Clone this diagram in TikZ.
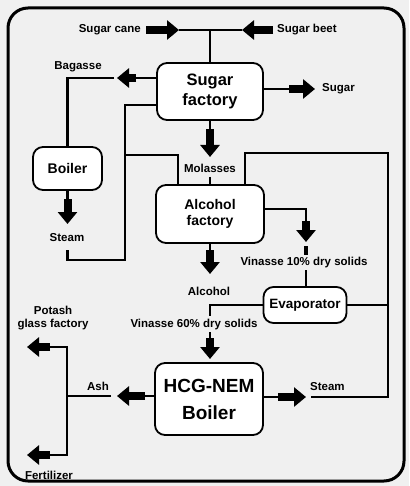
\documentclass[tikz,border=0pt]{standalone}
\usepackage{fontspec}
\setmainfont{Liberation Sans}
\usetikzlibrary{positioning,arrows.meta}

\begin{document}
\begin{tikzpicture}[x=1pt,y=-1pt,
        proc/.style={draw, line width=1.8pt, rounded corners=10pt, fill=white,
                     align=center, font=\bfseries, inner sep=2pt},
        lbl/.style={font=\bfseries\fontsize{11.5}{13}\selectfont, inner sep=0pt, align=center},
        flow/.style={line width=2.4pt},
        big/.style={line width=8pt, -{Triangle[width=19pt,length=12pt]}},
    ]
        \useasboundingbox (0,0) rectangle (409,486);
        \fill[black!6] (0,0) rectangle (409,486);
        \draw[line width=3pt, rounded corners=20pt] (8,8) rectangle (404,481);

        \node[proc, minimum width=106pt, minimum height=57pt,
              font=\bfseries\fontsize{16.5}{20}\selectfont] (sugar)  at (210,91.5) {Sugar\\factory};
        \node[proc, minimum width=108pt, minimum height=58pt,
              font=\bfseries\fontsize{14}{16.5}\selectfont] (alc)    at (210,214)  {Alcohol\\factory};
        \node[proc, minimum width=69pt, minimum height=43pt,
              font=\bfseries\fontsize{14}{16}\selectfont]   (boiler) at (67.5,168.5) {Boiler};
        \node[proc, minimum width=83pt, minimum height=36pt,
              font=\bfseries\fontsize{13.5}{16}\selectfont] (evap)   at (305,305)  {Evaporator};
        \node[proc, minimum width=108pt, minimum height=72pt,
              font=\bfseries\fontsize{19}{27}\selectfont]   (hcg)    at (209,399)  {HCG-NEM\\Boiler};

        \node[lbl, anchor=east] (cane)   at (141,30)  {Sugar cane};
        \node[lbl, anchor=west] (beet)   at (277,30)  {Sugar beet};
        \node[lbl]              (bag)    at (78,67)   {Bagasse};
        \node[lbl, anchor=west] (sug)    at (322,89)  {Sugar};
        \node[lbl]              (steam1) at (67,238)  {Steam};
        \node[lbl]              (mol)    at (210,168) {Molasses};
        \node[lbl]              (vin10)  at (304,263) {Vinasse 10\% dry solids};
        \node[lbl]              (alco)   at (209,291) {Alcohol};
        \node[lbl]              (vin60)  at (194,325) {Vinasse 60\% dry solids};
        \node[lbl]              (ash)    at (98,386)  {Ash};
        \node[lbl, anchor=west] (steam2) at (310,387) {Steam};
        \node[lbl]              (potash) at (53,318)  {Potash\\glass factory};
        \node[lbl]              (fert)   at (49,475)  {Fertilizer};

        \coordinate (caneA) at (146,30);  \coordinate (caneB) at (179,30);
        \coordinate (beetA) at (273,30);  \coordinate (beetB) at (242,30);
        \coordinate (topj)  at (210,30);
        \coordinate (bagA)  at (136,78);  \coordinate (bagB)  at (117,78);
        \coordinate (bagC)  at (114,78);  \coordinate (bagD)  at (67.5,78);
        \coordinate (sugA)  at (289,89);  \coordinate (sugB)  at (315,89);
        \coordinate (molA)  at (210,129); \coordinate (molB)  at (210,157);
        \coordinate (molC)  at (210,177);
        \coordinate (stA)   at (67.5,199); \coordinate (stB)  at (67.5,224);
        \coordinate (stC)   at (67.5,250); \coordinate (stD)  at (67.5,260);
        \coordinate (stE)   at (125,260); \coordinate (stF)   at (125,105);
        \coordinate (stG)   at (125,155); \coordinate (stH)   at (178,155);
        \coordinate (vA)    at (306,209); \coordinate (vB)    at (306,221);
        \coordinate (vC)    at (306,242); \coordinate (vD)    at (306,246);
        \coordinate (vE)    at (306,255); \coordinate (vF)    at (306,270);
        \coordinate (alA)   at (210,250); \coordinate (alB)   at (210,274);
        \coordinate (wA)    at (210,305); \coordinate (wB)    at (210,316);
        \coordinate (wC)    at (210,332); \coordinate (wD)    at (210,338);
        \coordinate (wE)    at (210,359);
        \coordinate (hsA)   at (278,397); \coordinate (hsB)   at (306,397);
        \coordinate (hsC)   at (311,397); \coordinate (hsD)   at (388,397);
        \coordinate (hsE)   at (388,153); \coordinate (hsF)   at (245,153);
        \coordinate (hsG)   at (388,305);
        \coordinate (ashA)  at (145,396); \coordinate (ashB)  at (117,396);
        \coordinate (ashC)  at (111,396); \coordinate (ashD)  at (67,396);
        \coordinate (potA)  at (67,347);  \coordinate (potB)  at (50,347);
        \coordinate (potC)  at (27,347);
        \coordinate (ferA)  at (67,455);  \coordinate (ferB)  at (50,455);
        \coordinate (ferC)  at (27,455);

        \draw[big]  (caneA) -- (caneB);
        \draw[big]  (beetA) -- (beetB);
        \draw[flow] (caneB) -- (beetB);
        \draw[flow] (topj) -- (sugar.north);

        \draw[flow] ([yshift=13.5pt]sugar.west) -- (bagA);
        \draw[big]  (bagA) -- (bagB);
        \draw[flow] (bagC) -- (bagD) -- (boiler.north);

        \draw[flow] ([yshift=2.5pt]sugar.east) -- (sugA);
        \draw[big]  (sugA) -- (sugB);

        \draw[flow] (sugar.south) -- (molA);
        \draw[big]  (molA) -- (molB);
        \draw[flow] (molC) -- (alc.north);

        \draw[flow] (boiler.south) -- (stA);
        \draw[big]  (stA) -- (stB);
        \draw[flow] (stC) -- (stD) -- (stE) -- (stF) -- ([yshift=-13.5pt]sugar.west);
        \draw[flow] (stG) -- (stH) -- (stH |- alc.north);

        \draw[flow] ([yshift=5pt]alc.east) -- (vA) -- (vB);
        \draw[big]  (vB) -- (vC);
        \draw[line width=4pt] (vD) -- (vE);
        \draw[flow] (vF) -- (vF |- evap.north);

        \draw[flow] (alc.south) -- (alA);
        \draw[big]  (alA) -- (alB);

        \draw[flow] (evap.west) -- (wA) -- (wB);
        \draw[flow] (wC) -- (wD);
        \draw[big]  (wD) -- (wE);

        \draw[flow] ([yshift=2pt]hcg.east) -- (hsA);
        \draw[big]  (hsA) -- (hsB);
        \draw[flow] (hsC) -- (hsD) -- (hsE) -- (hsF) -- (hsF |- alc.north);
        \draw[flow] (evap.east) -- (hsG);

        \draw[flow] ([yshift=3pt]hcg.west) -- (ashA);
        \draw[big]  (ashA) -- (ashB);
        \draw[flow] (ashC) -- (ashD);
        \draw[flow] (potB) -- (potA) -- (ferA) -- (ferB);
        \draw[big]  (potB) -- (potC);
        \draw[big]  (ferB) -- (ferC);
    \end{tikzpicture}
\end{document}
